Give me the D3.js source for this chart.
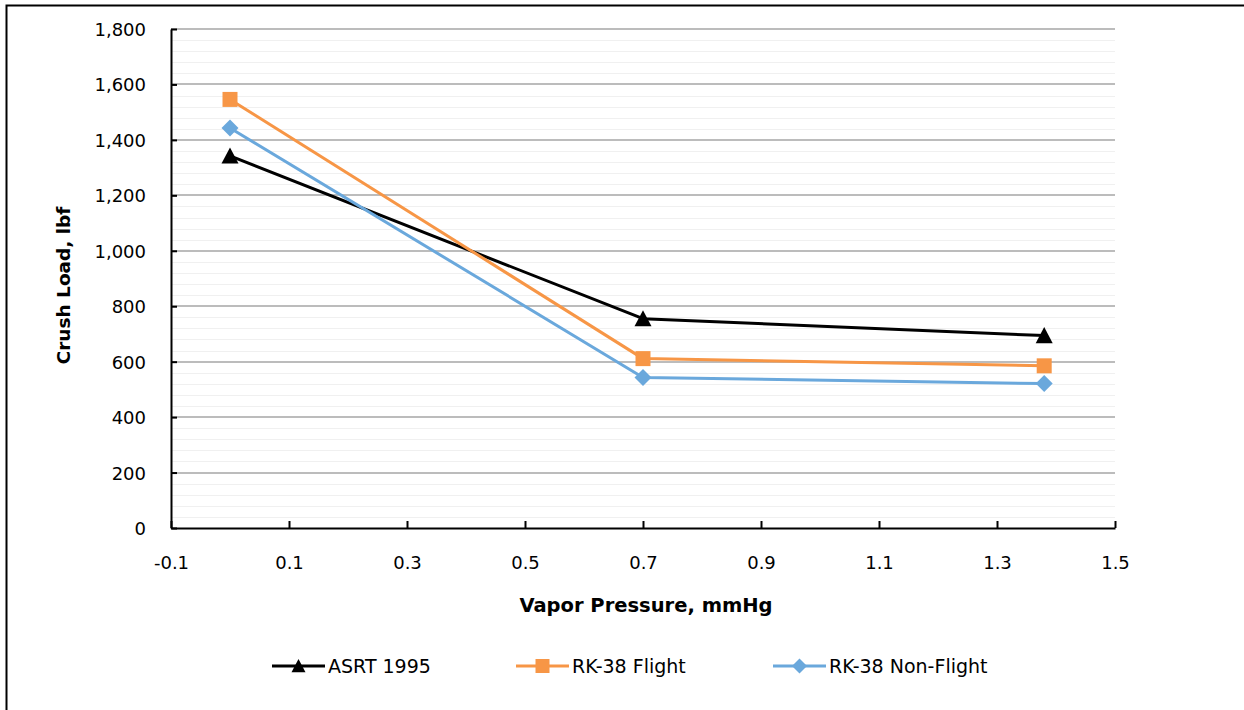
<!DOCTYPE html>
<html><head><meta charset="utf-8">
<script src="https://cdn.jsdelivr.net/npm/d3@7"></script>
<style>html,body{margin:0;padding:0;background:#fff;}svg{display:block;}</style>
</head><body>
<svg id="chart" width="1244" height="710"></svg>
<script>
const seriesNames = ["ASRT 1995", "RK-38 Flight", "RK-38 Non-Flight"];
const xValues = [0, 0.7, 1.38];
const asrt1995 = [1342, 755, 694];
const rk38Flight = [1546, 611, 585];
const rk38NonFlight = [1443, 543, 521];
const xTicks = [-0.1, 0.1, 0.3, 0.5, 0.7, 0.9, 1.1, 1.3, 1.5];
const yTicks = [0, 200, 400, 600, 800, 1000, 1200, 1400, 1600, 1800];
const xTitle = "Vapor Pressure, mmHg";
const yTitle = "Crush Load, lbf";

const colors = ["#000000", "#F79646", "#6AA8DC"];
const FONT = "'DejaVu Sans', sans-serif";

// marker path generators (s = half-extent)
const markers = [
  s => `M0,${-s}L${s},${s * 0.9}L${-s},${s * 0.9}Z`,
  s => `M${-s},${-s}H${s}V${s}H${-s}Z`,
  s => `M0,${-s}L${s},0L0,${s}L${-s},0Z`
];
const markerSize = [8.5, 7.5, 8.5];
const legendMarkerSize = [7, 7, 7.5];

const svg = d3.select("#chart");
// outer frame (cut off right/bottom)
svg.append("path").attr("d", "M6.5,720 V5.5 H1250").attr("fill", "none").attr("stroke", "#000").attr("stroke-width", 2);

const L = 171, R = 1115, T = 29, B = 528;
const x = d3.scaleLinear().domain([-0.1, 1.5]).range([L, R]);
const y = d3.scaleLinear().domain([0, 1800]).range([B, T]);

// minor gridlines
const minor = d3.range(0, 1801, 40).filter(v => v % 200 !== 0);
svg.append("g").selectAll("line").data(minor).join("line")
  .attr("x1", L).attr("x2", R).attr("y1", d => Math.round(y(d)) + 0.5).attr("y2", d => Math.round(y(d)) + 0.5)
  .attr("stroke", "#f0f0f0").attr("stroke-width", 1);
// major gridlines
svg.append("g").selectAll("line").data(yTicks.filter(v => v > 0)).join("line")
  .attr("x1", L).attr("x2", R).attr("y1", d => Math.round(y(d))).attr("y2", d => Math.round(y(d)))
  .attr("stroke", "#a6a6a6").attr("stroke-width", 1.5);

// axes
const yAxis = d3.axisLeft(y).tickValues(yTicks).tickSizeInner(-6).tickSizeOuter(0).tickPadding(25)
  .tickFormat(d3.format(","));
const gy = svg.append("g").attr("transform", `translate(${L},0)`).call(yAxis);
const xAxis = d3.axisBottom(x).tickValues(xTicks).tickSizeInner(-7).tickSizeOuter(0).tickPadding(28)
  .tickFormat(d => d3.format(".1f")(d).replace("\u2212", "-"));
const gx = svg.append("g").attr("transform", `translate(0,${B})`).call(xAxis);
[gx, gy].forEach(g => {
  g.select(".domain").attr("stroke", "#000").attr("stroke-width", 2);
  g.selectAll(".tick line").attr("stroke", "#000").attr("stroke-width", 2);
  g.selectAll("text").attr("font-family", FONT).attr("font-size", 18).attr("fill", "#000");
});
gy.selectAll(".tick text").attr("dy", "0.36em");

// axis titles
svg.append("text").attr("x", (L + R) / 2 + 3).attr("y", 612).attr("text-anchor", "middle")
  .attr("font-family", FONT).attr("font-weight", "bold").attr("font-size", 19.5).text(xTitle);
svg.append("text").attr("transform", `translate(70,${(T + B) / 2 + 7}) rotate(-90)`).attr("text-anchor", "middle")
  .attr("font-family", FONT).attr("font-weight", "bold").attr("font-size", 18.5).text(yTitle);

// series
const allSeries = [asrt1995, rk38Flight, rk38NonFlight];
const line = d3.line().x(d => x(d[0])).y(d => y(d[1]));
allSeries.forEach((vals, i) => {
  const pts = xValues.map((xv, j) => [xv, vals[j]]);
  svg.append("path").datum(pts).attr("d", line).attr("fill", "none")
    .attr("stroke", colors[i]).attr("stroke-width", 3).attr("stroke-linejoin", "round");
  svg.append("g").selectAll("path").data(pts).join("path")
    .attr("transform", d => `translate(${x(d[0])},${y(d[1])})`)
    .attr("d", markers[i](markerSize[i]))
    .attr("fill", colors[i]);
});

// legend
const legX = [272, 516, 773];
const legY = 666;
seriesNames.forEach((name, i) => {
  const g = svg.append("g");
  g.append("line").attr("x1", legX[i]).attr("x2", legX[i] + 53).attr("y1", legY).attr("y2", legY)
    .attr("stroke", colors[i]).attr("stroke-width", 3);
  g.append("path").attr("transform", `translate(${legX[i] + 26.5},${legY})`)
    .attr("d", markers[i](legendMarkerSize[i])).attr("fill", colors[i]);
  g.append("text").attr("x", legX[i] + 56).attr("y", legY).attr("dy", "0.36em")
    .attr("font-family", FONT).attr("font-size", 19).text(name);
});
</script>
</body></html>
